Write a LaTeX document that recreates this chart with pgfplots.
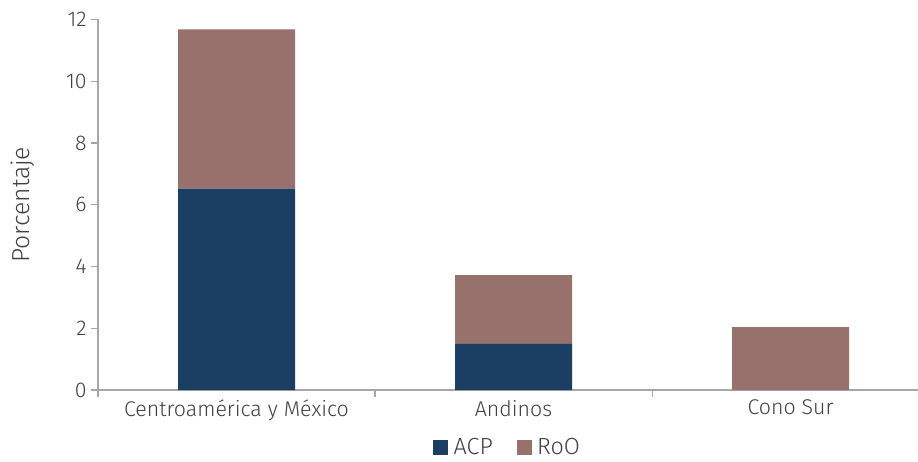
\documentclass[border=0pt]{standalone}
\usepackage{pgfplots}
\pgfplotsset{compat=1.18}
\usepackage{fontspec}
\setmainfont{Fira Sans}[UprightFont=* Light]
\definecolor{acp}{HTML}{1A3F63}
\definecolor{roo}{HTML}{98706C}
\definecolor{axisgray}{HTML}{A6A6A6}
\definecolor{txt}{HTML}{404040}
\begin{document}
\begin{tikzpicture}
\useasboundingbox (0pt,0pt) rectangle (688.5pt,345.75pt);
\begin{axis}[
  at={(73.5pt,53.25pt)}, anchor=south west,
  scale only axis,
  width=615pt, height=277.9pt,
  ybar stacked,
  bar width=87.75pt,
  xmin=-0.5, xmax=2.46,
  ymin=0, ymax=12,
  ytick={0,2,...,12},
  xtick={-0.5,0.5,1.5},
  xticklabels={},
  extra x ticks={0,1,2},
  extra x tick labels={Centroamérica y México, Andinos, Cono Sur},
  extra x tick style={major tick length=0pt},
  axis x line*=bottom, axis y line*=left,
  axis line style={draw=axisgray, line width=0.8pt, -},
  major tick length=5pt,
  tick align=outside,
  tick style={draw=axisgray, line width=0.8pt},
  /pgf/number format/assume math mode=true,
  tick label style={font=\fontsize{16}{19}\selectfont, text=txt},
  xticklabel style={yshift=-4pt},
  ylabel={Porcentaje},
  ylabel style={font=\fontsize{18.5}{22}\selectfont, text=txt, yshift=17pt},
  legend style={at={(0.5,-0.155)}, anchor=center, draw=none,
    legend columns=2, font=\fontsize{17.5}{20}\selectfont, text=txt,
    inner sep=0pt,
    /tikz/every odd column/.append style={column sep=2pt},
    /tikz/every even column/.append style={column sep=16pt}},
  legend image code/.code={\fill[#1] (0pt,-5.6pt) rectangle (11.25pt,5.6pt);},
]
\addplot[fill=acp, draw=none] coordinates {(0,6.52) (1,1.49) (2,0)};
\addplot[fill=roo, draw=none] coordinates {(0,5.16) (1,2.23) (2,2.04)};
\legend{ACP, RoO}
\end{axis}
\end{tikzpicture}
\end{document}
